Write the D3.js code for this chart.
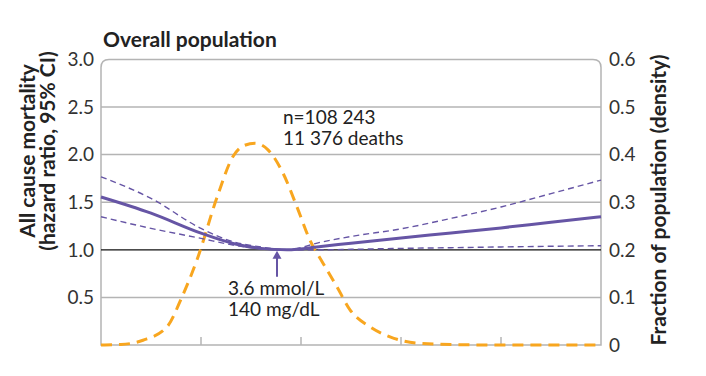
<!DOCTYPE html>
<html>
<head>
<meta charset="utf-8">
<script src="https://cdn.jsdelivr.net/npm/d3@7"></script>
<style>
  body { margin: 0; background: #fff; }
  svg { font-family: Lato, "Open Sans", sans-serif; }
</style>
</head>
<body>
<div id="chart"></div>
<script>
// position along the (unlabelled) x axis, 0..5
const xTicks = [1, 2, 3, 4];

// hazard ratio curve and 95% CI
const hrX     = [0, 0.5, 1.0, 1.32, 1.6, 1.86, 2.2, 2.5, 3.0, 3.5, 4.0, 4.5, 5.0];
const hrMid   = [1.555, 1.385, 1.175, 1.067, 1.015, 1.0, 1.035, 1.07, 1.125, 1.177, 1.23, 1.29, 1.347];
const hrUpper = [1.767, 1.54, 1.225, 1.085, 1.03, 1.0, 1.08, 1.14, 1.22, 1.33, 1.45, 1.59, 1.732];
const hrLower = [1.347, 1.225, 1.12, 1.05, 1.01, 1.0, 1.0, 1.005, 1.015, 1.022, 1.03, 1.037, 1.043];

// population density
const densX = [0, 0.2, 0.42, 0.66, 0.81, 0.96, 1.16, 1.32, 1.42, 1.54, 1.67, 1.82, 1.96, 2.09, 2.22, 2.36, 2.49, 2.69, 2.89, 3.16, 3.5, 4, 5];
const dens  = [0, 0.001, 0.010, 0.038, 0.101, 0.179, 0.31, 0.396, 0.418, 0.424, 0.41, 0.361, 0.29, 0.22, 0.172, 0.122, 0.074, 0.038, 0.017, 0.004, 0.001, 0, 0];

const hrTicks = [0.5, 1.0, 1.5, 2.0, 2.5, 3.0];
const densTicks = [0, 0.1, 0.2, 0.3, 0.4, 0.5, 0.6];

const nadirX = 1.76;

const purple = "#6655a5",
      orange = "#f8a61f",
      grey = "#b4b4b4";

const margin = {top: 59.4, right: 105, bottom: 31, left: 101},
      width = 706 - margin.left - margin.right,
      height = 376 - margin.top - margin.bottom;

const svg = d3.select("#chart")
              .append("svg")
              .attr("width", 706)
              .attr("height", 376);

const g = svg.append("g")
             .attr("transform", `translate(${margin.left}, ${margin.top})`);

const x = d3.scaleLinear().domain([0, 5]).range([0, width]);
const y = d3.scaleLinear().domain([0, 3]).range([height, 0]);
const y2 = d3.scaleLinear().domain([0, 0.6]).range([height, 0]);

// gridlines
g.append("g")
 .selectAll("line")
 .data(hrTicks.filter(d => d !== 1.0 && d !== 3.0))
 .join("line")
 .attr("x1", 0).attr("x2", width)
 .attr("y1", d => y(d)).attr("y2", d => y(d))
 .attr("stroke", grey).attr("stroke-width", 1.5);

// frame with rounded top corners
const r = 8;
g.append("path")
 .attr("d", `M0,${height} L0,${r} Q0,0 ${r},0 L${width - r},0 Q${width},0 ${width},${r} L${width},${height} Z`)
 .attr("fill", "none")
 .attr("stroke", grey)
 .attr("stroke-width", 1.5);

// x ticks (no labels)
g.append("g")
 .selectAll("line")
 .data(xTicks)
 .join("line")
 .attr("x1", d => x(d)).attr("x2", d => x(d))
 .attr("y1", height).attr("y2", height - 8)
 .attr("stroke", grey).attr("stroke-width", 1.5);

// reference line HR = 1
g.append("line")
 .attr("x1", 0).attr("x2", width)
 .attr("y1", y(1)).attr("y2", y(1))
 .attr("stroke", "#111").attr("stroke-width", 1.3);

// left tick labels
g.append("g")
 .selectAll("text")
 .data(hrTicks)
 .join("text")
 .attr("x", -7)
 .attr("y", d => y(d))
 .attr("dy", "0.36em")
 .attr("text-anchor", "end")
 .attr("font-size", 19)
 .attr("fill", "#333")
 .text(d => d.toFixed(1));

// right tick labels
g.append("g")
 .selectAll("text")
 .data(densTicks)
 .join("text")
 .attr("x", width + 8)
 .attr("y", d => y2(d))
 .attr("dy", "0.36em")
 .attr("font-size", 19)
 .attr("fill", "#333")
 .text(d => d === 0 ? "0" : d.toFixed(1));

// density curve
const densLine = d3.line()
                   .x((d, i) => x(densX[i]))
                   .y(d => y2(d))
                   .curve(d3.curveMonotoneX);

g.append("path")
 .attr("d", densLine(dens))
 .attr("fill", "none")
 .attr("stroke", orange)
 .attr("stroke-width", 3)
 .attr("stroke-dasharray", "11,7");

// hazard ratio curves
const hrLine = d3.line()
                 .x((d, i) => x(hrX[i]))
                 .y(d => y(d))
                 .curve(d3.curveMonotoneX);

[hrUpper, hrLower].forEach(series => {
  g.append("path")
   .attr("d", hrLine(series))
   .attr("fill", "none")
   .attr("stroke", purple)
   .attr("stroke-width", 1.4)
   .attr("stroke-dasharray", "6,4");
});

g.append("path")
 .attr("d", hrLine(hrMid))
 .attr("fill", "none")
 .attr("stroke", purple)
 .attr("stroke-width", 3);

// nadir arrow
const ax = x(nadirX);
g.append("line")
 .attr("x1", ax).attr("x2", ax)
 .attr("y1", y(1) + 27).attr("y2", y(1) + 7)
 .attr("stroke", purple).attr("stroke-width", 2);
g.append("path")
 .attr("d", `M${ax},${y(1) + 1} L${ax - 4.5},${y(1) + 9} L${ax + 4.5},${y(1) + 9} Z`)
 .attr("fill", purple);

// annotations
const note = g.append("g").attr("font-size", 19).attr("fill", "#222");
note.append("text").attr("x", 182).attr("y", 65).text("n=108 243");
note.append("text").attr("x", 182).attr("y", 86).text("11 376 deaths");
note.append("text").attr("x", 127).attr("y", 236).text("3.6 mmol/L");
note.append("text").attr("x", 127).attr("y", 257).text("140 mg/dL");

// title
svg.append("text")
   .attr("x", 103)
   .attr("y", 47)
   .attr("font-size", 21)
   .attr("font-weight", "bold")
   .attr("fill", "#222")
   .text("Overall population");

// axis titles
const leftTitle = svg.append("text")
                     .attr("transform", "translate(35, 151) rotate(-90)")
                     .attr("text-anchor", "middle")
                     .attr("font-size", 21)
                     .attr("font-weight", "bold")
                     .attr("fill", "#222");
leftTitle.append("tspan").attr("x", 0).attr("dy", 0).text("All cause mortality");
leftTitle.append("tspan").attr("x", 0).attr("dy", 19.5).text("(hazard ratio, 95% CI)");

svg.append("text")
   .attr("transform", "translate(666, 200) rotate(-90)")
   .attr("text-anchor", "middle")
   .attr("font-size", 21)
   .attr("font-weight", "bold")
   .attr("fill", "#222")
   .text("Fraction of population (density)");
</script>
</body>
</html>
